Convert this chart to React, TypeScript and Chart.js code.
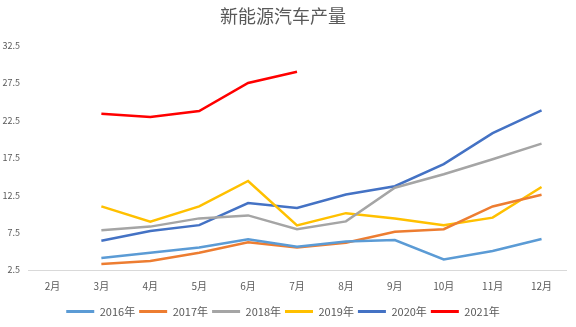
import React, { useEffect, useRef } from "react";
import { Chart, registerables } from "chart.js";

Chart.register(...registerables);

const months = ["2月", "3月", "4月", "5月", "6月", "7月", "8月", "9月", "10月", "11月", "12月"];
const y2016 = [null, 4.1, 4.8, 5.5, 6.6, 5.6, 6.3, 6.5, 3.9, 5.05, 6.65];
const y2017 = [null, 3.3, 3.7, 4.8, 6.2, 5.5, 6.15, 7.6, 7.95, 11.0, 12.55];
const y2018 = [null, 7.8, 8.3, 9.4, 9.8, 7.95, 9.0, 13.5, 15.3, 17.3, 19.4];
const y2019 = [null, 11.0, 8.95, 11.0, 14.4, 8.45, 10.1, 9.4, 8.5, 9.5, 13.6];
const y2020 = [null, 6.4, 7.7, 8.5, 11.45, 10.8, 12.6, 13.7, 16.65, 20.8, 23.85];
const y2021 = [null, 23.4, 22.95, 23.75, 27.5, 29.0, null, null, null, null, null];
const seriesNames = ["2016年", "2017年", "2018年", "2019年", "2020年", "2021年"];
const seriesColors = ["#5B9BD5", "#ED7D31", "#A5A5A5", "#FFC000", "#4472C4", "#FF0000"];
const yTicks = [2.5, 7.5, 12.5, 17.5, 22.5, 27.5, 32.5];

const FONT = '"Noto Sans CJK SC", "Noto Sans", sans-serif';

export default function App() {
  const ref = useRef<HTMLCanvasElement | null>(null);
  useEffect(() => {
    document.body.style.margin = "0";
    const values = [y2016, y2017, y2018, y2019, y2020, y2021];
    const chart = new Chart(ref.current as HTMLCanvasElement, {
      type: "line",
      data: {
        labels: months,
        datasets: values.map((v, i) => ({
          label: seriesNames[i],
          data: v,
          borderColor: seriesColors[i],
          backgroundColor: seriesColors[i],
          borderWidth: 2.5,
          pointRadius: 0,
          pointHoverRadius: 0,
          tension: 0,
          fill: false,
        })),
      },
      options: {
        responsive: false,
        animation: false,
        layout: { padding: { left: 0, right: 10, top: 0, bottom: 0 } },
        plugins: {
          title: {
            display: true,
            text: "新能源汽车产量",
            color: "#595959",
            font: { family: FONT, size: 18, weight: "normal" },
            padding: { top: 5, bottom: 19 },
          },
          legend: {
            position: "bottom",
            labels: {
              color: "#595959",
              font: { family: FONT, size: 11 },
              boxWidth: 28,
              boxHeight: 3,
              padding: 4,
              generateLabels: (c: any) =>
                c.data.datasets.map((d: any, i: number) => ({
                  text: d.label,
                  fillStyle: d.borderColor,
                  strokeStyle: d.borderColor,
                  lineWidth: 0,
                  fontColor: "#595959",
                  datasetIndex: i,
                  hidden: false,
                })),
            },
          },
          tooltip: { enabled: false },
        },
        scales: {
          x: {
            offset: true,
            grid: { display: false, drawTicks: false },
            border: { display: true, color: "#D9D9D9", width: 1 },
            ticks: { color: "#595959", font: { family: FONT, size: 10 }, padding: 10, maxRotation: 0 },
          },
          y: {
            min: 2.5,
            max: 32.5,
            afterBuildTicks: (s: any) => {
              s.ticks = yTicks.map((v) => ({ value: v }));
            },
            afterFit: (s: any) => {
              s.width = 28;
            },
            grid: { display: false, drawTicks: false },
            border: { display: false },
            ticks: {
              color: "#595959",
              font: { family: FONT, size: 9 },
              padding: 8,
              callback: (v: any) => String(v),
            },
          },
        },
      },
    });
    return () => chart.destroy();
  }, []);
  return (
    <div style={{ width: 576, height: 327, background: "#fff" }}>
      <canvas ref={ref} width={576} height={327} />
    </div>
  );
}
